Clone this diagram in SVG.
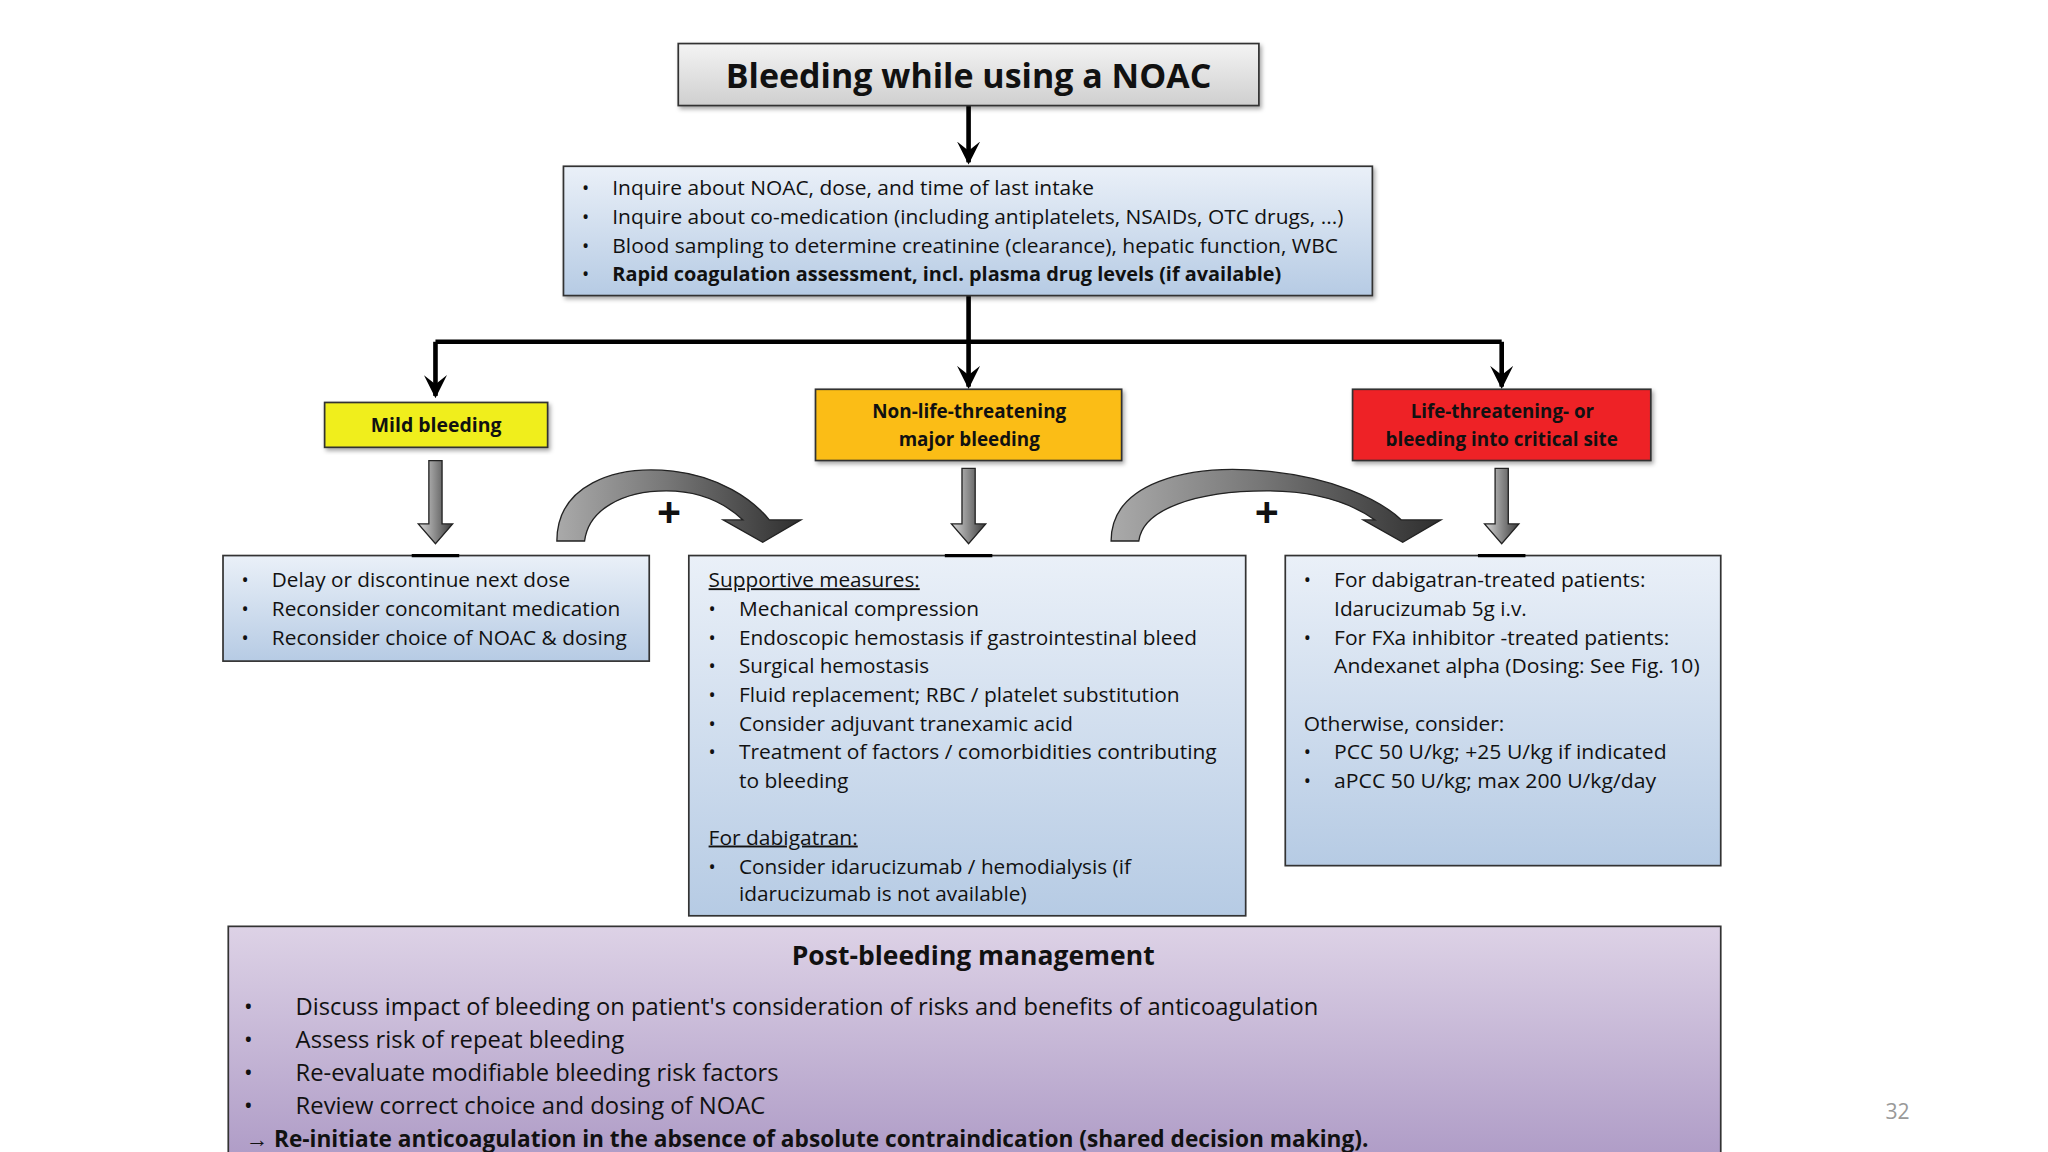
<svg xmlns="http://www.w3.org/2000/svg" width="2048" height="1152" viewBox="0 0 2048 1152">
<defs>
<style>
text{font-family:"Open Sans","Liberation Sans",sans-serif;fill:#111}
.t{font-size:14.5px}
.b{font-weight:bold}
.p{font-size:17.5px}
.box{stroke:#333;stroke-width:1.3}
.ln{stroke:#000;stroke-width:3.5;fill:none}
</style>
<linearGradient id="gGray" x1="0" y1="0" x2="0" y2="1"><stop offset="0" stop-color="#f4f4f4"/><stop offset="1" stop-color="#cfcfcf"/></linearGradient>
<linearGradient id="gBlue" x1="0" y1="0" x2="0" y2="1"><stop offset="0" stop-color="#eaf0f8"/><stop offset="1" stop-color="#b6cbe4"/></linearGradient>
<linearGradient id="gPurple" x1="0" y1="0" x2="0" y2="1"><stop offset="0" stop-color="#ddd2e6"/><stop offset="1" stop-color="#ae9bc6"/></linearGradient>
<linearGradient id="gArr" x1="0" y1="0" x2="1" y2="0"><stop offset="0" stop-color="#d8d8d8"/><stop offset="0.5" stop-color="#8a8a8a"/><stop offset="1" stop-color="#3a3a3a"/></linearGradient>
<linearGradient id="gCurve" x1="0" y1="0" x2="1" y2="0"><stop offset="0" stop-color="#aaa"/><stop offset="0.45" stop-color="#777"/><stop offset="1" stop-color="#2e2e2e"/></linearGradient>
<linearGradient id="gDown" x1="0" y1="0" x2="0" y2="1"><stop offset="0" stop-color="#e0e0e0"/><stop offset="1" stop-color="#333"/></linearGradient>
<filter id="sh" x="-5%" y="-5%" width="110%" height="120%"><feDropShadow dx="1.5" dy="2" stdDeviation="1.5" flood-opacity="0.35"/></filter>
<marker id="ah" viewBox="0 0 10 10" refX="9" refY="5" markerWidth="5" markerHeight="5" orient="auto"><path d="M0,0 L10,5 L0,10 L4,5 Z" fill="#000"/></marker>
</defs>
<rect width="2048" height="1152" fill="#fff"/>
<g transform="scale(1.319588)">
<g id="connectors">
<line class="ln" x1="734" y1="80" x2="734" y2="123" marker-end="url(#ah)"/>
<line class="ln" x1="734" y1="224" x2="734" y2="259"/>
<line class="ln" x1="330" y1="259" x2="1138" y2="259"/>
<line class="ln" x1="330" y1="259" x2="330" y2="300" marker-end="url(#ah)"/>
<line class="ln" x1="734" y1="259" x2="734" y2="293" marker-end="url(#ah)"/>
<line class="ln" x1="1138" y1="259" x2="1138" y2="293" marker-end="url(#ah)"/>
<path d="M325,349 h10 v48 h8 l-13,15 l-13,-15 h8 Z" fill="url(#gArr)" stroke="#222" stroke-width="1"/>
<path d="M729,355 h10 v42 h8 l-13,15 l-13,-15 h8 Z" fill="url(#gArr)" stroke="#222" stroke-width="1"/>
<path d="M1133,355 h10 v42 h8 l-13,15 l-13,-15 h8 Z" fill="url(#gArr)" stroke="#222" stroke-width="1"/>
<path d="M422,410 C422,368 465,352 510,357 C545,361 570,378 583,394 L607,394 L578,411 L548,394 L563,394 C548,380 530,372 505,372 C472,372 446,386 443,410 Z" fill="url(#gCurve)" stroke="#222" stroke-width="1"/>
<path d="M842,410 C842,366 900,351 960,357 C1010,362 1045,378 1062,394 L1092,394 L1063,411 L1033,394 L1042,394 C1022,380 995,372 960,372 C906,372 866,386 863,410 Z" fill="url(#gCurve)" stroke="#222" stroke-width="1"/>
<text x="507" y="400" text-anchor="middle" class="b" style="font-size:32px">+</text>
<text x="960" y="400" text-anchor="middle" class="b" style="font-size:32px">+</text>
</g>
<g id="title">
<rect x="514" y="33" width="440" height="47" fill="url(#gGray)" class="box" filter="url(#sh)"/>
<text x="550" y="67" class="b" style="font-size:26px" textLength="368" lengthAdjust="spacingAndGlyphs">Bleeding while using a NOAC</text>
</g>
<g id="assess">
<rect x="427" y="126" width="613" height="98" fill="url(#gBlue)" class="box" filter="url(#sh)"/>
<g class="t">
<text x="441" y="148">•</text><text x="464" y="148" textLength="365" lengthAdjust="spacingAndGlyphs">Inquire about NOAC, dose, and time of last intake</text>
<text x="441" y="170">•</text><text x="464" y="170" textLength="554" lengthAdjust="spacingAndGlyphs">Inquire about co-medication (including antiplatelets, NSAIDs, OTC drugs, ...)</text>
<text x="441" y="192">•</text><text x="464" y="192" textLength="550" lengthAdjust="spacingAndGlyphs">Blood sampling to determine creatinine (clearance), hepatic function, WBC</text>
<text x="441" y="213">•</text><text x="464" y="213" class="b" textLength="507" lengthAdjust="spacingAndGlyphs">Rapid coagulation assessment, incl. plasma drug levels (if available)</text>
</g>
</g>
<g id="mild">
<rect x="246" y="305" width="169" height="34" fill="#f0ee1e" class="box" filter="url(#sh)"/>
<text x="281" y="327" class="t b" textLength="99" lengthAdjust="spacingAndGlyphs">Mild bleeding</text>
</g>
<g id="major">
<rect x="618" y="295" width="232" height="54" fill="#fbbd13" class="box" filter="url(#sh)"/>
<text x="661" y="317" class="t b" textLength="147" lengthAdjust="spacingAndGlyphs">Non-life-threatening</text>
<text x="681" y="338" class="t b" textLength="107" lengthAdjust="spacingAndGlyphs">major bleeding</text>
</g>
<g id="life">
<rect x="1025" y="295" width="226" height="54" fill="#ee2126" class="box" filter="url(#sh)"/>
<text x="1069" y="317" class="t b" textLength="139" lengthAdjust="spacingAndGlyphs">Life-threatening- or</text>
<text x="1050" y="338" class="t b" textLength="176" lengthAdjust="spacingAndGlyphs">bleeding into critical site</text>
</g>
<g id="mild-actions">
<rect x="169" y="421" width="323" height="80" fill="url(#gBlue)" class="box"/>
<line x1="312" y1="421" x2="348" y2="421" stroke="#000" stroke-width="2.5"/>
<g class="t">
<text x="183" y="445">•</text><text x="206" y="445" textLength="226" lengthAdjust="spacingAndGlyphs">Delay or discontinue next dose</text>
<text x="183" y="467">•</text><text x="206" y="467" textLength="264" lengthAdjust="spacingAndGlyphs">Reconsider concomitant medication</text>
<text x="183" y="489">•</text><text x="206" y="489" textLength="269" lengthAdjust="spacingAndGlyphs">Reconsider choice of NOAC &amp; dosing</text>
</g>
</g>
<g id="major-actions">
<rect x="522" y="421" width="422" height="273" fill="url(#gBlue)" class="box"/>
<line x1="716" y1="421" x2="752" y2="421" stroke="#000" stroke-width="2.5"/>
<g class="t">
<text x="537" y="445" text-decoration="underline" textLength="160" lengthAdjust="spacingAndGlyphs">Supportive measures:</text>
<text x="537" y="467">•</text><text x="560" y="467" textLength="182" lengthAdjust="spacingAndGlyphs">Mechanical compression</text>
<text x="537" y="489">•</text><text x="560" y="489" textLength="347" lengthAdjust="spacingAndGlyphs">Endoscopic hemostasis if gastrointestinal bleed</text>
<text x="537" y="510">•</text><text x="560" y="510" textLength="144" lengthAdjust="spacingAndGlyphs">Surgical hemostasis</text>
<text x="537" y="532">•</text><text x="560" y="532" textLength="334" lengthAdjust="spacingAndGlyphs">Fluid replacement; RBC / platelet substitution</text>
<text x="537" y="554">•</text><text x="560" y="554" textLength="253" lengthAdjust="spacingAndGlyphs">Consider adjuvant tranexamic acid</text>
<text x="537" y="575">•</text><text x="560" y="575" textLength="362" lengthAdjust="spacingAndGlyphs">Treatment of factors / comorbidities contributing</text>
<text x="560" y="597" textLength="83" lengthAdjust="spacingAndGlyphs">to bleeding</text>
<text x="537" y="640" text-decoration="underline" textLength="113" lengthAdjust="spacingAndGlyphs">For dabigatran:</text>
<text x="537" y="662">•</text><text x="560" y="662" textLength="297" lengthAdjust="spacingAndGlyphs">Consider idarucizumab / hemodialysis (if</text>
<text x="560" y="683" textLength="218" lengthAdjust="spacingAndGlyphs">idarucizumab is not available)</text>
</g>
</g>
<g id="life-actions">
<rect x="974" y="421" width="330" height="235" fill="url(#gBlue)" class="box"/>
<line x1="1120" y1="421" x2="1156" y2="421" stroke="#000" stroke-width="2.5"/>
<g class="t">
<text x="988" y="445">•</text><text x="1011" y="445" textLength="236" lengthAdjust="spacingAndGlyphs">For dabigatran-treated patients:</text>
<text x="1011" y="467" textLength="146" lengthAdjust="spacingAndGlyphs">Idarucizumab 5g i.v.</text>
<text x="988" y="489">•</text><text x="1011" y="489" textLength="254" lengthAdjust="spacingAndGlyphs">For FXa inhibitor -treated patients:</text>
<text x="1011" y="510" textLength="277" lengthAdjust="spacingAndGlyphs">Andexanet alpha (Dosing: See Fig. 10)</text>
<text x="988" y="554" textLength="152" lengthAdjust="spacingAndGlyphs">Otherwise, consider:</text>
<text x="988" y="575">•</text><text x="1011" y="575" textLength="252" lengthAdjust="spacingAndGlyphs">PCC 50 U/kg; +25 U/kg if indicated</text>
<text x="988" y="597">•</text><text x="1011" y="597" textLength="244" lengthAdjust="spacingAndGlyphs">aPCC 50 U/kg; max 200 U/kg/day</text>
</g>
</g>
<g id="post">
<rect x="173" y="702" width="1131" height="179" fill="url(#gPurple)" class="box" stroke-width="1.8"/>
<text x="600" y="731" class="b" style="font-size:20px" textLength="275" lengthAdjust="spacingAndGlyphs">Post-bleeding management</text>
<g class="p">
<text x="185" y="769">•</text><text x="224" y="769" textLength="775" lengthAdjust="spacingAndGlyphs">Discuss impact of bleeding on patient's consideration of risks and benefits of anticoagulation</text>
<text x="185" y="794">•</text><text x="224" y="794" textLength="249" lengthAdjust="spacingAndGlyphs">Assess risk of repeat bleeding</text>
<text x="185" y="819">•</text><text x="224" y="819" textLength="366" lengthAdjust="spacingAndGlyphs">Re-evaluate modifiable bleeding risk factors</text>
<text x="185" y="844">•</text><text x="224" y="844" textLength="356" lengthAdjust="spacingAndGlyphs">Review correct choice and dosing of NOAC</text>
<text x="186" y="869" class="b" textLength="851" lengthAdjust="spacingAndGlyphs">→ Re-initiate anticoagulation in the absence of absolute contraindication (shared decision making).</text>
</g>
</g>
<text x="1438" y="848" text-anchor="middle" style="font-size:16px;fill:#999">32</text>
</g>
</svg>
